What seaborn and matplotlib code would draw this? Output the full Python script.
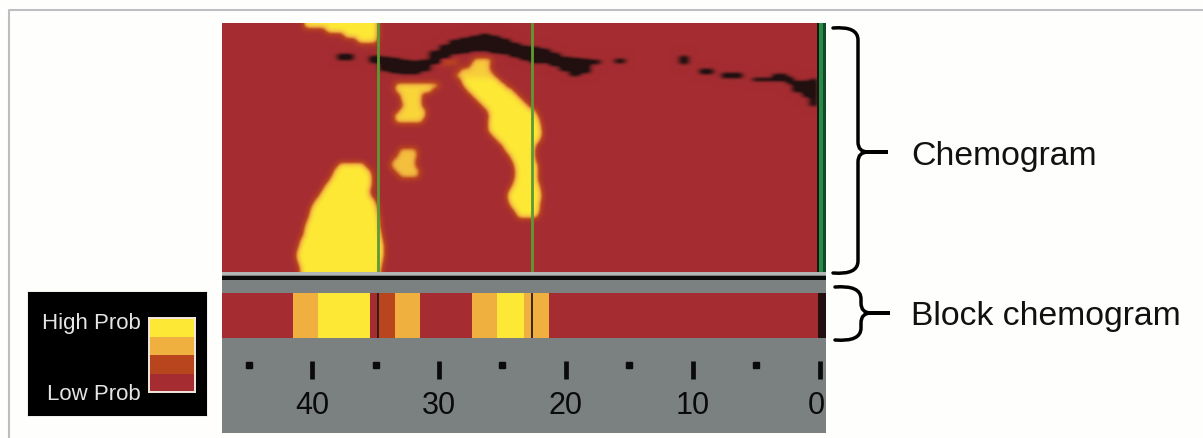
import numpy as np
import matplotlib
matplotlib.use("Agg")
import matplotlib.pyplot as plt
import seaborn as sns
from matplotlib.colors import LinearSegmentedColormap
from matplotlib.path import Path
from matplotlib.patches import PathPatch
from matplotlib.transforms import ScaledTranslation

W, H = 1203, 439
N_SCANS = 604
N_LINES = 249
SCANS_PER_MM = 12.7
ZERO_SCAN = 598

# levels: -1 lipid-free dark, 0 low prob, 0.35 / 0.7 mid, 1 high prob
# blobs: first frame (5 lines each), then start and end scan of each frame
blob_a_frame = 0
blob_a_start = [82, 104, 122, 135]
blob_a_end = [156, 156, 156, 155]

blob_b_frame = 28
blob_b_start = [116, 112, 110, 107, 103, 100, 97, 93, 90, 88, 87, 85, 83, 82, 81, 78, 77, 75, 74, 75, 77, 78]
blob_b_end = [143, 148, 150, 150, 150, 148, 149, 153, 155, 156, 157, 158, 158, 159, 160, 161, 162, 162, 162, 161, 160, 159]

blob_c_frame = 12
blob_c_start = [173, 173, 178, 179, 181, 177, 172, 173]
blob_c_end = [217, 210, 200, 200, 200, 204, 204, 201]

blob_d_frame = 25
blob_d_start = [177, 175, 170, 168, 172, 177]
blob_d_end = [195, 196, 194, 194, 198, 197]

arc_top_frame = 7
arc_top_start = [251, 248, 238, 233]
arc_top_end = [270, 268, 269, 273]

arc_frame = 11
arc_start = [239, 241, 245, 250, 255, 260, 265, 267, 266, 266, 266, 270, 275, 280, 283, 287, 290, 292, 293, 293, 292, 290, 287, 285, 286, 288, 292, 295]
arc_end = [278, 284, 291, 296, 301, 306, 313, 316, 318, 319, 320, 320, 318, 314, 313, 313, 314, 316, 316, 316, 316, 318, 319, 320, 319, 318, 318, 316]

# dark band, ten scans wide per entry
band_first_scan = 148
band_top = [33, 34, 35, 37, 38, 37, 28, 22, 17, 15, 13, 11, 13, 16, 20, 23, 24, 26, 30, 34, 35, 36, 37]
band_bottom = [40, 48, 50, 51, 51, 48, 41, 35, 31, 30, 28, 28, 30, 31, 34, 37, 40, 40, 43, 48, 53, 50, 41]

# separate dark flecks
fleck_start = [116, 393, 458, 478, 500, 531, 551, 565, 571, 581, 588]
fleck_end = [131, 403, 466, 491, 520, 551, 565, 571, 581, 588, 595]
fleck_top = [31, 36, 33, 46, 50, 55, 51, 54, 58, 58, 56]
fleck_bottom = [37, 40, 41, 51, 55, 58, 58, 61, 69, 74, 83]

guide_scans = [156, 310]

block_levels = [0, 0.7, 1, 0, 0.35, 0.7, 0, 0.7, 1, 0.7, 0, -1]
block_widths = [71, 25, 52, 9, 16, 25, 52, 25, 27, 25, 269, 8]

legend_levels = [1, 0.7, 0.35, 0]
mm_labels = [40, 30, 20, 10, 0]
mm_minor = [45, 35, 25, 15, 5]

RED = "#A52C30"
GREY = "#7B8080"
cmap = LinearSegmentedColormap.from_list(
    "chemo",
    [(0, "#221010"), (0.5, RED), (0.675, "#B9451F"), (0.85, "#F0B040"), (1, "#FDE835")],
)


def px_axes(fig, left, top, width, height, **kw):
    return fig.add_axes([left / W, 1 - (top + height) / H, width / W, height / H], **kw)


def heat(ax, data):
    sns.heatmap(data, ax=ax, cmap=cmap, vmin=-1, vmax=1, cbar=False,
                xticklabels=False, yticklabels=False)


def paint_frames(grid, first, starts, ends, level):
    for i, (a, b) in enumerate(zip(starts, ends)):
        grid[(first + i) * 5:(first + i + 1) * 5, a:b] = level


def blur(grid, sigma, sigma_x=None):
    x = np.arange(-10, 11)
    kernel_y = np.exp(-x ** 2 / (2 * sigma ** 2))
    kernel_y /= kernel_y.sum()
    kernel_x = np.exp(-x ** 2 / (2 * (sigma_x or sigma) ** 2))
    kernel_x /= kernel_x.sum()
    pad = np.pad(grid, 10, mode="edge")
    out = np.apply_along_axis(lambda r: np.convolve(r, kernel_y, mode="same"), 0, pad)
    out = np.apply_along_axis(lambda r: np.convolve(r, kernel_x, mode="same"), 1, out)
    return out[10:-10, 10:-10]


def brace(ax, x0, x1, top, bottom, mid, tip):
    verts = [(x0, top), (x1, top - 2), (x1, top + 12), (x1, mid - 10), (x1, mid), (x1 + 10, mid),
             (tip, mid), (x1 + 10, mid), (x1, mid), (x1, mid + 10), (x1, bottom - 12), (x1, bottom + 2), (x0, bottom)]
    codes = [Path.MOVETO, Path.CURVE3, Path.CURVE3, Path.LINETO, Path.CURVE3, Path.CURVE3,
             Path.LINETO, Path.LINETO, Path.CURVE3, Path.CURVE3, Path.LINETO, Path.CURVE3, Path.CURVE3]
    ax.add_patch(PathPatch(Path(verts, codes), fill=False, edgecolor="black", lw=2.5, capstyle="round"))


blobs = np.zeros((N_LINES, N_SCANS))
paint_frames(blobs, blob_a_frame, blob_a_start, blob_a_end, 1)
paint_frames(blobs, blob_b_frame, blob_b_start, blob_b_end, 1)
paint_frames(blobs, blob_c_frame, blob_c_start, blob_c_end, 0.9)
paint_frames(blobs, blob_d_frame, blob_d_start, blob_d_end, 0.78)
paint_frames(blobs, arc_top_frame, arc_top_start, arc_top_end, 0.85)
paint_frames(blobs, arc_frame, arc_start, arc_end, 1)
blobs[37:41, 215:236] = 0.6
blobs = blur(blobs, 3.0)

band = np.zeros((N_LINES, N_SCANS))
for i, (t, b) in enumerate(zip(band_top, band_bottom)):
    band[t:b, band_first_scan + i * 10:band_first_scan + (i + 1) * 10] = -1
for a, b, t, e in zip(fleck_start, fleck_end, fleck_top, fleck_bottom):
    band[t:e, a:b] = -1
band = np.clip(blur(band, 1.5, 3.0) * 1.25, -1, 0)

chemo = blobs * (1 + band) + band

block = np.repeat(block_levels, block_widths)[np.newaxis, :]

fig = plt.figure(figsize=(W / 100, H / 100), dpi=100, facecolor="#FEFEFC")

# page frame, braces, labels
page = px_axes(fig, 0, 0, W, H, zorder=5)
page.set_xlim(0, W)
page.set_ylim(H, 0)
page.axis("off")
page.plot([8.5, 8.5, 1203], [439, 10.5, 10.5], color="#BDBDC2", lw=1.5)
brace(page, 833, 858, 29, 274, 153, 888)
brace(page, 835, 861, 288, 341, 314, 890)
page.text(911, 157, "Chemogram", fontsize=24.3, family="Liberation Sans", va="center", color="#111111")
page.text(911, 317, "Block chemogram", fontsize=24.3, family="Liberation Sans", va="center", color="#111111")

# grey panel under the strips
panel = px_axes(fig, 222, 273, N_SCANS, 161, zorder=1)
panel.set_facecolor(GREY)
panel.set_xlim(0, N_SCANS)
panel.set_ylim(161, 0)
panel.set_xticks([])
panel.set_yticks([])
for s in panel.spines.values():
    s.set_visible(False)
panel.axhspan(0, 3, color="#B4B6B6", lw=0)
panel.axhspan(4, 8, color="#0A0A0A", lw=0)

# chemogram
ax = px_axes(fig, 222, 24, N_SCANS, N_LINES, zorder=2)
heat(ax, chemo)
for g in guide_scans:
    ax.axvline(g, color="#5C9A33", lw=2.0)
ax.axvspan(595, 597, color="#141A12", lw=0)
ax.axvspan(597, 601, color="#2A8A48", lw=0)
ax.axvspan(601, N_SCANS, color="#114A26", lw=0)

# block chemogram
ax_block = px_axes(fig, 222, 294, N_SCANS, 45, zorder=2)
heat(ax_block, block)
for g in guide_scans:
    ax_block.axvline(g, color="#2A1A10", lw=1.3)

# scale
ax_scale = px_axes(fig, 222, 362, N_SCANS, 18, zorder=2)
ax_scale.patch.set_alpha(0)
sns.despine(ax=ax_scale, left=True, bottom=True)
ax_scale.set_xlim(0, N_SCANS)
ax_scale.set_ylim(1, 0)
ax_scale.set_yticks([])
ax_scale.set_xticks([ZERO_SCAN - SCANS_PER_MM * m for m in mm_labels])
ax_scale.set_xticklabels(mm_labels, fontsize=22, family="Liberation Sans", color="#0A0A0A")
ax_scale.tick_params(axis="x", direction="in", length=13, width=3.4, color="#0A0A0A", pad=8)
ax_scale.plot([ZERO_SCAN - SCANS_PER_MM * m for m in mm_minor], [0.22] * len(mm_minor),
              ls="none", marker="s", ms=4.6, color="#0A0A0A", clip_on=False)
zero_label = ax_scale.get_xticklabels()[-1]
zero_label.set_transform(zero_label.get_transform() + ScaledTranslation(-4 / 100, 0, fig.dpi_scale_trans))

# legend
box = px_axes(fig, 28, 293, 178, 123, zorder=2)
box.set_facecolor("black")
box.set_xticks([])
box.set_yticks([])
box.set_xlim(0, 178)
box.set_ylim(123, 0)
box.text(113, 30, "High Prob", color="#E4E4E4", fontsize=16, family="Liberation Sans", ha="right", va="center")
box.text(113, 101, "Low Prob", color="#E4E4E4", fontsize=16, family="Liberation Sans", ha="right", va="center")

ax_leg = px_axes(fig, 149, 319, 46, 74, zorder=3)
heat(ax_leg, np.array(legend_levels).reshape(-1, 1))
for s in ax_leg.spines.values():
    s.set_visible(True)
    s.set_color("#F2E8E0")
    s.set_linewidth(1.4)

fig.savefig("out.png", dpi=100, facecolor=fig.get_facecolor())
